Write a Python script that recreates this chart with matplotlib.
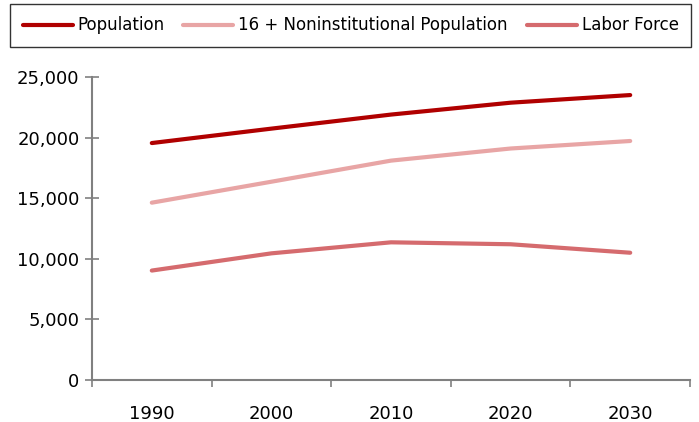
import numpy as np
import matplotlib.pyplot as plt
from matplotlib.ticker import FuncFormatter, FixedLocator

years = ["1990", "2000", "2010", "2020", "2030"]
population = [19550, 20740, 21900, 22880, 23510]
noninst_16 = [14630, 16360, 18100, 19100, 19720]
labor_force = [9030, 10450, 11360, 11200, 10500]

plt.rcParams['font.family'] = ['DejaVu Sans']

fig = plt.figure(figsize=(6.99, 4.22), dpi=100)
ax = fig.add_axes([92/699, 1 - 380/422, 598/699, 303/422])

x = np.arange(len(years))
l1, = ax.plot(x, population, color='#B00000', lw=3, solid_capstyle='round')
l2, = ax.plot(x, noninst_16, color='#E8A5A5', lw=3, solid_capstyle='round')
l3, = ax.plot(x, labor_force, color='#D56B6E', lw=3, solid_capstyle='round')

ax.set_xlim(-0.5, 4.5)
ax.set_ylim(0, 25000)
ax.set_yticks(np.arange(0, 25001, 5000))
ax.yaxis.set_major_formatter(FuncFormatter(lambda v, p: f"{int(v):,}"))
ax.set_xticks(x)
ax.set_xticklabels(years)
ax.xaxis.set_minor_locator(FixedLocator(np.arange(-0.5, 4.6, 1)))
ax.tick_params(axis='x', which='major', length=0, pad=18, labelsize=13)
ax.tick_params(axis='x', which='minor', length=5, width=1.2, color='#808080', direction='out')
ax.tick_params(axis='y', length=10, width=1.2, color='#808080', direction='inout', labelsize=13, pad=4)

for s in ['top', 'right']:
    ax.spines[s].set_visible(False)
for s in ['left', 'bottom']:
    ax.spines[s].set_color('#808080')
    ax.spines[s].set_linewidth(1.5)

leg = fig.legend([l1, l2, l3], ["Population", "16 + Noninstitutional Population", "Labor Force"],
                 loc='upper left', bbox_to_anchor=(10/699, 1 - 46/422, 681/699, 42/422),
                 mode='expand', ncol=3, fontsize=12, frameon=True, fancybox=False,
                 handlelength=3.0, handletextpad=0.3, columnspacing=0.8, borderaxespad=0,
                 borderpad=0.75)
leg.get_frame().set_edgecolor('black')
leg.get_frame().set_linewidth(1.0)

fig.savefig('out.png', dpi=100)
